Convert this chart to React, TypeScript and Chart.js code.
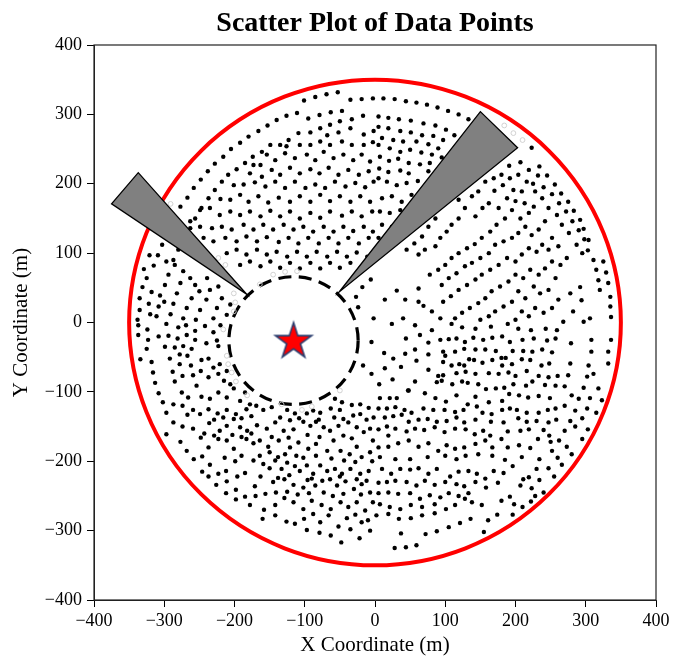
import React, { useEffect, useRef } from "react";
import { Chart, registerables } from "chart.js";

Chart.register(...registerables);

const chartTitle = "Scatter Plot of Data Points";
const xAxisTitle = "X Coordinate (m)";
const yAxisTitle = "Y Coordinate (m)";
const axisMin = -400;
const axisMax = 400;
const tickStep = 100;

// Field boundary (red circle) and tower exclusion zone (dashed circle)
const boundaryCenter: [number, number] = [0, 0];
const boundaryRadius = 350;
const towerPosition: [number, number] = [-116, -26];
const exclusionRadius = 92;

// Two grey wedges (tip first)
const wedgeLeft: [number, number][] = [[-183, 41], [-337, 216], [-375, 171]];
const wedgeRight: [number, number][] = [[-51, 44], [150, 304], [203, 252]];

// Heliostat points
const fieldNW: [number, number][] = [
  [-53,332],[-69,329],[-85,325],[-101,320],[-35,321],[-19,322],[-3,323],
  [-47,305],[-63,303],[-79,299],[-95,294],[-111,302],[-126,298],[-140,292],[-153,284],[-166,276],[-180,268],[-192,259],[-205,250],[-216,239],[-228,229],[-238,218],[-248,206],[-258,194],[-267,180],[-277,167],
  [-17,298],[-33,293],[-50,290],[-64,285],[-78,280],[-92,274],[-109,273],[-123,263],[-135,256],[-149,256],[-161,246],[-174,239],[-185,230],[-197,221],[-209,213],[-218,203],[-228,191],[-237,179],[-247,165],[-256,150],[-263,136],[-273,122],[-280,105],[-287,90],
  [-35,280],[-52,274],[-68,270],[-16,271],[-2,276],
  [-107,256],[-92,256],[-78,261],[-64,256],[-47,261],[-33,256],[-16,256],[-3,260],[-126,254],
  [-154,242],[-142,234],[-128,244],[-114,237],[-97,242],[-85,234],[-73,246],[-59,237],[-45,242],[-31,234],[-19,242],[-7,232],[-173,227],[-163,227],
  [-178,215],[-161,210],[-147,220],[-135,213],[-121,223],[-107,215],[-92,221],[-79,215],[-66,223],[-52,213],[-38,220],[-23,213],[-9,218],
  [-201,198],[-187,199],[-171,202],[-156,196],[-142,203],[-128,194],[-114,203],[-99,194],[-85,199],[-71,194],[-57,203],[-42,196],[-28,201],[-14,195],[-2,203],
  [-220,178],[-206,177],[-192,184],[-180,174],[-166,182],[-152,173],[-137,180],[-121,174],[-107,182],[-92,174],[-78,184],[-64,175],[-50,182],[-35,174],[-21,182],[-7,174],
  [-249,162],[-235,165],[-221,155],[-206,160],[-192,155],[-178,160],[-163,153],[-149,161],[-135,153],[-121,160],[-107,150],[-92,158],[-78,151],[-64,160],[-47,154],[-33,160],[-19,153],[-4,160],
  [-263,146],[-249,138],[-232,136],[-218,138],[-204,134],[-187,141],[-173,134],[-159,141],[-145,134],[-130,141],[-116,134],[-102,138],[-88,131],[-73,138],[-59,131],[-45,138],[-31,132],[-16,138],[-3,131],
  [-258,119],[-244,122],[-230,117],[-213,122],[-197,117],[-183,124],[-168,117],[-154,123],[-137,116],[-123,122],[-109,114],[-95,122],[-80,114],[-66,122],[-52,114],[-38,122],[-23,114],[-9,122],
  [-211,100],[-197,105],[-183,98],[-168,105],[-154,98],[-140,102],[-125,95],[-111,102],[-97,95],[-83,102],[-68,95],[-54,102],[-40,95],[-26,101],[-11,95],
  [-192,83],[-178,88],[-163,81],[-149,88],[-135,79],[-121,86],[-107,78],[-92,86],[-78,78],[-64,86],[-50,79],[-35,86],[-21,78],
  [-303,112],[-309,97],[-329,77],[-315,82],[-325,64],[-331,51],[-335,35],[-335,18],[-338,4],[-285,83],[-294,69],[-299,54],[-306,39],[-308,23],[-311,9],
  [-273,74],[-263,64],[-277,57],[-282,42],[-287,27],[-291,12],[-256,54],[-250,45],[-261,35],[-268,21],[-273,6],[-239,64],[-235,47],[-240,33],[-249,18],[-255,4],
  [-223,52],[-218,35],[-225,21],[-230,6],[-206,26],[-211,11],
  [-321,97],[-318,44],[-322,27],[-297,88],[-320,12],[-300,30],
];

const fieldNE: [number, number][] = [
  [12,323],[28,322],[44,319],[59,317],[74,314],[89,310],[104,305],[119,300],[133,293],
  [5,297],[19,295],[34,293],[51,291],[69,287],[86,284],[101,278],[113,270],
  [223,252],[234,225],[245,212],[256,199],[265,186],[275,174],[283,161],[292,148],[297,135],[304,119],
  [311,90],[315,76],[318,61],[320,47],[325,88],[329,72],[332,57],[335,37],[335,23],[336,8],
  [292,51],[297,1],[282,16],[306,6],[278,42],[294,32],[268,1],
  [5,282],[19,280],[36,276],[51,274],[67,270],[83,269],[97,263],[10,266],[26,263],[40,261],[59,261],[76,257],[90,251],
  [5,256],[21,251],[36,246],[50,249],[66,245],[81,242],[95,238],[7,239],[20,233],[33,236],[48,230],[64,228],[78,230],
  [6,222],[19,217],[36,219],[48,215],[61,204],[76,218],[5,208],[17,203],[31,198],[45,201],
  [10,179],[24,182],[38,174],[52,184],[7,160],[21,158],[36,162],[10,141],[24,138],[5,122],
  [207,231],[219,220],[191,226],[180,213],[169,208],[157,203],[147,189],[138,182],[119,177],
  [192,208],[204,213],[216,203],[228,189],[209,189],[197,191],[188,179],[176,165],[162,172],[153,165],[143,153],[128,165],[119,150],[109,141],[102,131],[93,122],[86,110],[71,105],[62,98],[86,150],[76,138],[67,124],[56,114],[45,105],
  [238,179],[247,165],[259,155],[266,141],[276,129],[287,112],[295,100],
  [226,167],[219,158],[207,150],[195,162],[185,150],[173,141],[164,131],[152,122],[142,113],[131,107],[119,100],[109,93],[100,83],[90,76],[78,69],
  [242,146],[233,134],[223,126],[214,138],[204,129],[195,122],[183,117],[171,112],[162,100],[150,93],[138,86],[128,81],[116,71],[105,64],[95,54],
  [252,122],[261,110],[247,105],[238,112],[230,102],[219,107],[209,98],[200,88],[188,93],[176,83],[164,76],[152,69],[143,62],[131,54],[119,47],[108,38],[97,30],
  [273,93],[264,83],[252,88],[242,78],[233,69],[221,76],[211,64],[200,69],[190,59],[178,52],[166,45],[157,35],[147,28],[135,21],[124,14],[114,6],
  [257,64],[247,47],[235,42],[226,52],[214,35],[204,45],[195,30],[183,23],[171,16],[162,9],[150,4],
  [261,33],[252,21],[240,14],[228,21],[219,9],[209,16],[200,4],
  [170,190],[182,198],[200,175],[213,172],[225,200],[232,212],[240,195],[252,185],[262,172],[272,160],[281,146],[290,133],[298,120],[303,104],
];

const fieldSE: [number, number][] = [
  [109,-2],[124,-7],[143,-9],[165,-6],[189,-2],[204,-9],[222,-11],[243,-9],[259,-11],
  [93,-25],[105,-24],[116,-23],[128,-28],[140,-22],[154,-25],[167,-22],[181,-20],[192,-28],[210,-25],[226,-23],[245,-26],[257,-23],
  [97,-42],[100,-48],[114,-42],[127,-38],[143,-39],[157,-39],[172,-41],[180,-51],[186,-51],[196,-41],[211,-41],[224,-42],[238,-39],[252,-43],
  [97,-57],[109,-62],[120,-60],[127,-62],[134,-53],[141,-54],[153,-58],[167,-54],[181,-62],[195,-60],[209,-53],[221,-54],[237,-62],[248,-59],
  [336,-25],[332,-42],[332,-59],[308,-25],[308,-42],[304,-62],[278,-59],[279,-30],
  [76,-68],[90,-77],[97,-76],[116,-73],[129,-71],[143,-74],[162,-73],[176,-74],[190,-72],[200,-77],[216,-70],[233,-77],[247,-79],[260,-77],[275,-76],[302,-78],[311,-74],
  [57,-85],[88,-86],[95,-84],[110,-89],[124,-85],[132,-87],[147,-89],[158,-96],[172,-95],[184,-94],[197,-89],[215,-91],[224,-85],[242,-90],[257,-91],[270,-92],[297,-94],
  [48,-98],[71,-102],[86,-109],[101,-114],[116,-105],[132,-118],[143,-107],[162,-115],[181,-113],[191,-103],[205,-105],[218,-108],[233,-106],[249,-109],[280,-105],[306,-109],[7,-109],[21,-109],[31,-109],
  [5,-124],[17,-124],[29,-122],[42,-126],[52,-130],[69,-124],[83,-126],[99,-126],[114,-129],[126,-126],[145,-121],[153,-130],[166,-132],[181,-126],[192,-124],[202,-126],[216,-130],[233,-130],[246,-126],[257,-124],[285,-127],[302,-124],
  [14,-137],[26,-135],[38,-133],[48,-143],[62,-140],[75,-139],[88,-143],[102,-142],[116,-137],[127,-144],[143,-140],[165,-143],[183,-144],[204,-138],[216,-143],[230,-142],[247,-144],[278,-142],[295,-138],
  [5,-154],[17,-150],[29,-153],[45,-157],[57,-153],[70,-155],[85,-151],[99,-158],[114,-153],[129,-154],[142,-161],[154,-156],[164,-163],[180,-168],[189,-157],[207,-156],[219,-154],[232,-168],[248,-163],[270,-156],[303,-154],[19,-163],[33,-174],[48,-170],
  [62,-179],[76,-174],[90,-185],[102,-177],[114,-182],[127,-180],[143,-175],[157,-170],[167,-180],[189,-180],[205,-177],[221,-181],[252,-185],[273,-179],[295,-168],[5,-180],[19,-179],
  [7,-194],[29,-197],[50,-197],[75,-194],[100,-192],[116,-197],[129,-192],[147,-190],[167,-192],[185,-198],[209,-194],[234,-197],
  [10,-211],[23,-218],[36,-211],[50,-212],[62,-210],[76,-218],[88,-211],[107,-222],[119,-215],[133,-214],[145,-218],[157,-225],[169,-214],[183,-217],[196,-207],[219,-223],[230,-211],
  [5,-231],[17,-230],[29,-228],[45,-230],[59,-235],[71,-228],[85,-234],[100,-230],[116,-233],[127,-236],[143,-230],[158,-238],[175,-231],[207,-235],[223,-239],
  [5,-246],[19,-245],[33,-247],[50,-246],[64,-254],[78,-249],[93,-252],[105,-246],[119,-250],[133,-246],[152,-263],[180,-257],[192,-251],[210,-266],
  [7,-262],[21,-266],[36,-269],[51,-263],[67,-266],[85,-262],[101,-269],[114,-263],[128,-254],[138,-259],
  [2,-278],[19,-276],[34,-283],[51,-282],[67,-278],[85,-275],[121,-289],[136,-283],[161,-285],[174,-277],[196,-277],
  [37,-304],[72,-305],[88,-301],[105,-295],[155,-302],[28,-325],[44,-324],[59,-321],
  [211,-226],[222,-258],[234,-227],[247,-210],[260,-195],[240,-245],[198,-262],[228,-250],[255,-222],[266,-205],[280,-190],[262,-170],[285,-150],[250,-172],[240,-155],[258,-140],[270,-120],[290,-110],[318,-95],[323,-112],[315,-130],
];

const fieldSW: [number, number][] = [
  [-337,-4],[-324,-10],[-297,-2],[-280,-7],[-269,-4],[-256,-12],[-242,-5],[-230,-14],[-220,-4],[-294,-19],
  [-337,-18],[-323,-25],[-308,-20],[-281,-23],[-268,-18],[-256,-25],[-240,-30],[-225,-26],[-325,-38],[-299,-35],[-285,-36],[-273,-34],[-261,-38],[-223,-34],
  [-334,-53],[-318,-57],[-292,-52],[-278,-46],[-267,-48],[-278,-60],[-262,-62],[-247,-54],[-237,-52],[-230,-65],[-221,-60],[-211,-70],
  [-316,-72],[-313,-87],[-288,-71],[-274,-77],[-259,-76],[-248,-70],[-237,-79],[-223,-74],[-215,-84],[-206,-89],[-285,-85],[-254,-91],
  [-308,-102],[-302,-115],[-287,-118],[-275,-101],[-266,-108],[-247,-107],[-235,-110],[-223,-101],[-211,-108],[-201,-95],[-192,-113],[-185,-101],[-178,-118],[-57,-110],[-47,-115],[-33,-119],[-21,-118],[-9,-123],
  [-297,-130],[-274,-120],[-267,-133],[-259,-126],[-249,-132],[-237,-125],[-224,-131],[-211,-126],[-198,-132],[-183,-125],[-169,-120],[-159,-126],[-147,-122],[-125,-126],[-114,-131],[-97,-131],[-88,-127],[-78,-130],[-63,-124],[-50,-126],[-21,-132],[-2,-137],
  [-297,-161],[-287,-144],[-274,-150],[-259,-153],[-248,-166],[-236,-145],[-221,-156],[-211,-149],[-201,-139],[-192,-151],[-182,-156],[-168,-148],[-154,-153],[-142,-144],[-130,-156],[-116,-154],[-102,-143],[-92,-149],[-84,-143],[-73,-151],[-64,-156],[-52,-149],[-38,-144],[-26,-151],[-16,-158],[-7,-153],
  [-277,-172],[-268,-185],[-237,-180],[-223,-168],[-211,-170],[-201,-182],[-190,-192],[-183,-168],[-173,-174],[-164,-170],[-152,-179],[-137,-170],[-128,-190],[-121,-180],[-109,-173],[-95,-182],[-84,-175],[-68,-185],[-59,-170],[-49,-185],[-36,-190],[-26,-179],[-19,-194],[-7,-187],
  [-258,-197],[-235,-205],[-223,-218],[-185,-217],[-173,-199],[-159,-204],[-150,-210],[-142,-199],[-133,-211],[-125,-202],[-114,-207],[-107,-214],[-97,-206],[-88,-218],[-78,-206],[-68,-214],[-57,-211],[-47,-218],[-35,-211],[-21,-218],[-9,-214],
  [-237,-222],[-226,-234],[-211,-229],[-198,-241],[-185,-251],[-171,-236],[-156,-247],[-145,-230],[-129,-226],[-116,-234],[-102,-238],[-96,-227],[-85,-235],[-73,-245],[-64,-226],[-54,-235],[-42,-229],[-30,-240],[-19,-233],[-7,-245],
  [-178,-263],[-158,-270],[-142,-263],[-129,-253],[-116,-259],[-102,-269],[-90,-257],[-76,-263],[-63,-269],[-49,-259],[-38,-266],[-26,-259],[-14,-271],[-3,-259],
  [-142,-278],[-126,-287],[-101,-283],[-88,-276],[-66,-278],[-52,-294],[-35,-298],[-19,-288],[-7,-300],[-97,-299],[-79,-303],[-63,-307],[-48,-317],[-22,-311],
  [-229,-140],[-216,-137],[-190,-138],[-176,-135],[-135,-137],[-121,-141],[-108,-138],[-80,-140],[-58,-137],[-45,-139],[-31,-134],[-12,-140],
  [-243,-160],[-229,-163],[-203,-162],[-190,-165],[-176,-160],[-147,-165],[-123,-166],[-96,-162],[-79,-165],[-45,-163],[-33,-167],[-3,-170],
  [-246,-193],[-214,-195],[-199,-200],[-164,-192],[-150,-187],[-138,-194],[-112,-192],[-102,-195],[-84,-192],[-62,-196],[-44,-199],[-28,-201],[-4,-200],
  [-246,-215],[-212,-214],[-196,-222],[-163,-222],[-138,-224],[-122,-220],[-90,-225],[-75,-228],[-50,-222],[-26,-226],[-12,-228],
  [-212,-246],[-198,-255],[-170,-250],[-141,-245],[-125,-244],[-110,-248],[-94,-246],[-60,-250],[-45,-247],[-20,-248],
  [-160,-283],[-114,-290],[-78,-288],[-40,-282],[-28,-277],[-10,-285],
];

// Sparse points east of the tower
const fieldInner: [number, number][] = [
  [-6,62],[-18,51],[-27,37],[31,46],[14,33],[43,33],[-24,22],[62,49],[62,30],[-2,6],[24,-2],[40,6],[69,24],[81,16],[57,-4],
  [-5,-28],[44,-23],[64,-18],[81,-11],[93,6],[13,-44],[43,-45],[76,-29],[-17,-62],[59,-55],[76,-46],[26,-52],[14,-66],[37,-64],[-5,-74],[57,-39],[6,-89],[25,-82],[47,-98],
];

// Faint hollow (shaded) points
const shadedPoints: [number, number][] = [
  [-291,171],[-294,160],[-213,83],[-223,93],[-201,42],[-199,29],[-201,16],[-164,55],[-128,73],[-111,74],[-145,69],
  [184,284],[197,273],[210,263],
  [-216,-10],[-211,-48],[-209,-60],[-204,-72],[-198,-85],[-182,-105],[-133,-118],[-104,-126],[-90,-121],[-50,-98],
];

const FONT = "'Liberation Serif', 'DejaVu Serif', 'Times New Roman', serif";

const toPts = (arr: [number, number][]) => arr.map(([x, y]) => ({ x, y }));

function makeStar(): HTMLCanvasElement {
  const c = document.createElement("canvas");
  c.width = 44;
  c.height = 44;
  const g = c.getContext("2d")!;
  const R = 19;
  const r = R * 0.382;
  const cx = 22;
  const cy = 23;
  g.beginPath();
  for (let i = 0; i < 10; i++) {
    const rad = i % 2 === 0 ? R : r;
    const a = -Math.PI / 2 + (i * Math.PI) / 5;
    const px = cx + rad * Math.cos(a);
    const py = cy + rad * Math.sin(a);
    if (i === 0) g.moveTo(px, py);
    else g.lineTo(px, py);
  }
  g.closePath();
  g.fillStyle = "#ff0000";
  g.fill();
  g.lineWidth = 1.6;
  g.strokeStyle = "#2a3d6e";
  g.lineJoin = "miter";
  g.stroke();
  return c;
}

const overlayPlugin = {
  id: "overlayShapes",
  beforeDatasetsDraw(chart: any) {
    const { ctx, scales } = chart;
    const xs = scales.x;
    const ys = scales.y;
    ctx.save();
    const bx = xs.getPixelForValue(boundaryCenter[0]);
    const by = ys.getPixelForValue(boundaryCenter[1]);
    const brx = Math.abs(xs.getPixelForValue(boundaryCenter[0] + boundaryRadius) - bx);
    const bry = Math.abs(ys.getPixelForValue(boundaryCenter[1] + boundaryRadius) - by);
    ctx.beginPath();
    ctx.ellipse(bx, by, brx, bry, 0, 0, Math.PI * 2);
    ctx.strokeStyle = "#ff0000";
    ctx.lineWidth = 4;
    ctx.stroke();
    const tx = xs.getPixelForValue(towerPosition[0]);
    const ty = ys.getPixelForValue(towerPosition[1]);
    const erx = Math.abs(xs.getPixelForValue(towerPosition[0] + exclusionRadius) - tx);
    const ery = Math.abs(ys.getPixelForValue(towerPosition[1] + exclusionRadius) - ty);
    ctx.beginPath();
    ctx.ellipse(tx, ty, erx, ery, 0, 0, Math.PI * 2);
    ctx.setLineDash([13, 7.5]);
    ctx.strokeStyle = "#000000";
    ctx.lineWidth = 3.2;
    ctx.stroke();
    ctx.restore();
  },
  afterDatasetsDraw(chart: any) {
    const { ctx, scales } = chart;
    const xs = scales.x;
    const ys = scales.y;
    ctx.save();
    [wedgeLeft, wedgeRight].forEach((w) => {
      ctx.beginPath();
      w.forEach(([vx, vy], i) => {
        const px = xs.getPixelForValue(vx);
        const py = ys.getPixelForValue(vy);
        if (i === 0) ctx.moveTo(px, py);
        else ctx.lineTo(px, py);
      });
      ctx.closePath();
      ctx.fillStyle = "#808080";
      ctx.fill();
      ctx.strokeStyle = "#000000";
      ctx.lineWidth = 1.3;
      ctx.lineJoin = "miter";
      ctx.stroke();
    });
    const star = chart.$towerStar as HTMLCanvasElement;
    if (star) {
      const sx = xs.getPixelForValue(towerPosition[0]);
      const sy = ys.getPixelForValue(towerPosition[1]);
      ctx.drawImage(star, sx - star.width / 2, sy - star.height / 2);
    }
    ctx.restore();
  },
  afterDraw(chart: any) {
    const { ctx, chartArea } = chart;
    ctx.save();
    ctx.strokeStyle = "#222222";
    ctx.lineWidth = 1.2;
    ctx.strokeRect(chartArea.left, chartArea.top, chartArea.right - chartArea.left, chartArea.bottom - chartArea.top);
    ctx.fillStyle = "#000000";
    ctx.font = "bold 28px " + FONT;
    ctx.textAlign = "center";
    ctx.textBaseline = "middle";
    ctx.fillText(chartTitle, (chartArea.left + chartArea.right) / 2, 24);
    ctx.restore();
  },
};

const tickLabel = (v: any) => {
  const n = Number(v);
  return n < 0 ? "\u2212" + Math.abs(n) : String(n);
};

export default function App() {
  const canvasRef = useRef<HTMLCanvasElement | null>(null);

  useEffect(() => {
    if (!canvasRef.current) return;
    const heliostats = [
      ...toPts(fieldNW),
      ...toPts(fieldNE),
      ...toPts(fieldSE),
      ...toPts(fieldSW),
      ...toPts(fieldInner),
    ];
    const chart: any = new Chart(canvasRef.current, {
      type: "scatter",
      data: {
        datasets: [
          {
            label: "Shaded",
            data: toPts(shadedPoints),
            pointRadius: 2.4,
            pointBorderWidth: 1,
            borderColor: "rgba(205,205,205,0.9)",
            backgroundColor: "rgba(255,255,255,0)",
          },
          {
            label: "Heliostats",
            data: heliostats,
            pointRadius: 2.2,
            pointBorderWidth: 0,
            borderColor: "#000000",
            backgroundColor: "#000000",
          },
        ],
      },
      options: {
        responsive: false,
        devicePixelRatio: 1,
        animation: false,
        events: [],
        layout: { padding: { left: 0, right: 17, top: 45, bottom: 0 } },
        plugins: {
          legend: { display: false },
          tooltip: { enabled: false },
          title: { display: false },
        },
        scales: {
          x: {
            type: "linear",
            min: axisMin,
            max: axisMax,
            afterFit: (s: any) => {
              s.height = 58;
            },
            ticks: {
              stepSize: tickStep,
              autoSkip: false,
              maxRotation: 0,
              color: "#000000",
              padding: 3,
              font: { family: FONT, size: 18 },
              callback: tickLabel,
            },
            grid: {
              display: true,
              drawOnChartArea: false,
              drawTicks: true,
              tickLength: 7,
              color: "#000000",
              tickColor: "#000000",
            },
            border: { display: true, color: "#222222", width: 1 },
            title: {
              display: true,
              text: xAxisTitle,
              color: "#000000",
              font: { family: FONT, size: 21 },
              padding: { top: 2, bottom: 0 },
            },
          },
          y: {
            type: "linear",
            min: axisMin,
            max: axisMax,
            afterFit: (s: any) => {
              s.width = 94;
            },
            ticks: {
              stepSize: tickStep,
              autoSkip: false,
              color: "#000000",
              padding: 5,
              font: { family: FONT, size: 18 },
              callback: tickLabel,
            },
            grid: {
              display: true,
              drawOnChartArea: false,
              drawTicks: true,
              tickLength: 7,
              color: "#000000",
              tickColor: "#000000",
            },
            border: { display: true, color: "#222222", width: 1 },
            title: {
              display: true,
              text: yAxisTitle,
              color: "#000000",
              font: { family: FONT, size: 21 },
              padding: { top: 9, bottom: 0 },
            },
          },
        },
      },
      plugins: [overlayPlugin],
    });
    chart.$towerStar = makeStar();
    chart.draw();
    return () => {
      chart.destroy();
    };
  }, []);

  return (
    <div style={{ position: "fixed", left: 0, top: 0, width: 673, height: 658, background: "#ffffff" }}>
      <canvas ref={canvasRef} width={673} height={658} style={{ display: "block" }} />
    </div>
  );
}
